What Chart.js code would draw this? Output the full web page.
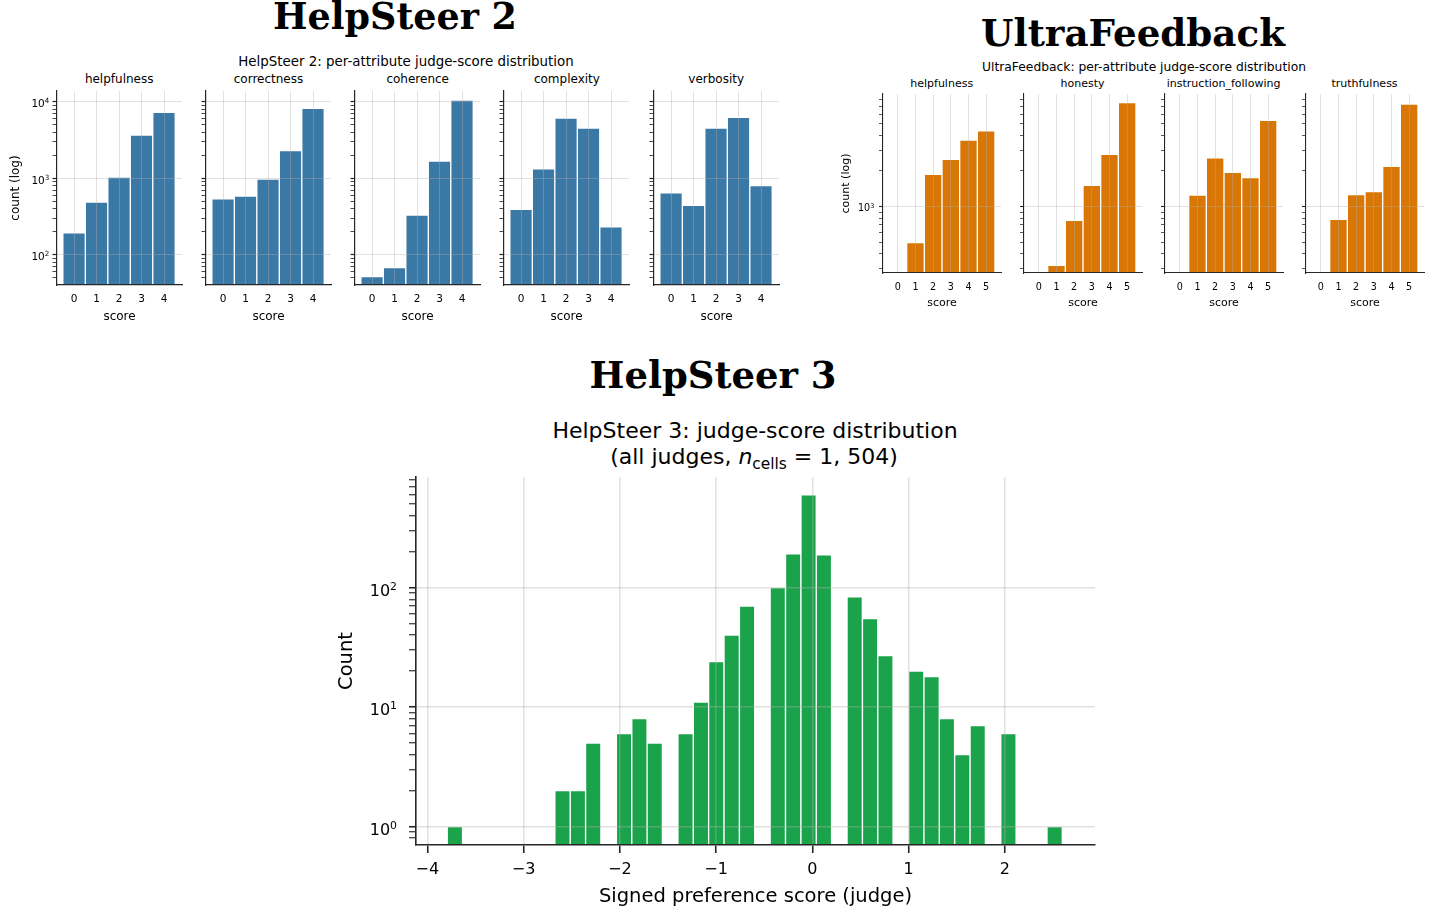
<!DOCTYPE html>
<html>
<head>
<meta charset="utf-8">
<script src="https://cdn.jsdelivr.net/npm/chart.js@4.4.1/dist/chart.umd.min.js"></script>
<style>
  html, body { margin: 0; padding: 0; background: #fff; }
  body { width: 1433px; height: 923px; position: relative; overflow: hidden;
         font-family: "DejaVu Sans", sans-serif; color: #000; }
  canvas { position: absolute; }
  .txt { position: absolute; white-space: nowrap; transform: translate(-50%, -50%); line-height: 1; }
  .head { font-family: "DejaVu Serif", serif; font-weight: bold; }
  sub { font-size: 0.7em; vertical-align: -0.3em; line-height: 0; }
</style>
</head>
<body>
<div class="txt head" id="h-hs2" style="left:395px; top:16.5px; font-size:35px">HelpSteer 2</div>
<div class="txt head" id="h-uf" style="left:1133px; top:34px; font-size:36px">UltraFeedback</div>
<div class="txt head" id="h-hs3" style="left:713px; top:375px; font-size:34px">HelpSteer 3</div>

<div class="txt" style="left:406px; top:61.7px; font-size:13.4px">HelpSteer 2: per-attribute judge-score distribution</div>
<div class="txt" style="left:1144px; top:66.7px; font-size:12.3px">UltraFeedback: per-attribute judge-score distribution</div>
<div class="txt" style="left:755px; top:431px; font-size:22px">HelpSteer 3: judge-score distribution</div>
<div class="txt" style="left:754px; top:457px; font-size:22px">(all judges, <i>n</i><sub>cells</sub> = 1, 504)</div>

<script>
// ---- data ----
const hs2Scores = [0, 1, 2, 3, 4];
const hs2Attributes = ['helpfulness', 'correctness', 'coherence', 'complexity', 'verbosity'];
const hs2Helpfulness = [194, 489, 1040, 3680, 7300];
const hs2Correctness = [539, 585, 980, 2300, 8260];
const hs2Coherence = [52, 68, 330, 1683, 10570];
const hs2Complexity = [392, 1336, 6140, 4550, 232];
const hs2Verbosity = [646, 442, 4550, 6270, 807];
const hs2YTicks = [100, 1000, 10000];

const ufScores = [0, 1, 2, 3, 4, 5];
const ufAttributes = ['helpfulness', 'honesty', 'instruction_following', 'truthfulness'];
const ufHelpfulness = [null, 497, 1874, 2508, 3655, 4377];
const ufHonesty = [null, 320, 767, 1514, 2767, 7553];
const ufInstructionFollowing = [null, 1254, 2577, 1950, 1758, 5356];
const ufTruthfulness = [null, 782, 1262, 1339, 2188, 7345];
const ufYTicks = [1000];

const hs3BinCenters = [
  -3.713, -3.553, -3.394, -3.234, -3.074, -2.914, -2.755, -2.595, -2.435, -2.276,
  -2.116, -1.956, -1.796, -1.637, -1.477, -1.317, -1.157, -0.998, -0.838, -0.678,
  -0.519, -0.359, -0.199, -0.039, 0.120, 0.280, 0.440, 0.600, 0.759, 0.919,
  1.079, 1.239, 1.398, 1.558, 1.718, 1.878, 2.037, 2.197, 2.357, 2.517
];
const hs3Counts = [
  1, null, null, null, null, null, null, 2, 2, 5,
  null, 6, 8, 5, null, 6, 11, 24, 40, 70,
  null, 100, 192, 600, 188, null, 84, 55, 27, null,
  20, 18, 8, 4, 7, null, 6, null, null, 1
];
const hs3XTicks = [-4, -3, -2, -1, 0, 1, 2];
const hs3YTicks = [1, 10, 100];

// ---- helpers ----
Chart.defaults.font.family = '"DejaVu Sans", sans-serif';
Chart.defaults.color = '#000';
const GRID = 'rgba(176,176,176,0.38)';
const AXIS = '#262626';

function fmt(v) { return v < 0 ? '\u2212' + Math.abs(v) : String(v); }
function logTickValues(min, max) {
  const out = [];
  for (let k = Math.floor(Math.log10(min)); k <= Math.ceil(Math.log10(max)); k++) {
    for (let m = 1; m <= 9; m++) {
      const v = Number((m * Math.pow(10, k)).toPrecision(3));
      if (v >= min && v <= max) out.push(v);
    }
  }
  return out;
}
function label(text, x, y, size) {
  const d = document.createElement('div');
  d.className = 'txt';
  d.style.left = x + 'px'; d.style.top = y + 'px'; d.style.fontSize = size + 'px';
  d.textContent = text;
  document.body.appendChild(d);
}

// y tick labels like matplotlib's 10^k: "10" plus a raised, smaller exponent
const powerLabels = {
  id: 'powerLabels',
  afterDraw(chart, args, opts) {
    if (!opts.show) return;
    const s = chart.scales.y, ctx = chart.ctx, f = opts.size;
    const xRight = s.right - opts.offset;
    ctx.save();
    ctx.fillStyle = '#000';
    ctx.textBaseline = 'alphabetic';
    ctx.textAlign = 'right';
    opts.values.forEach(v => {
      if (v < s.min || v > s.max) return;
      const y = s.getPixelForValue(v);
      const base = y + 0.5 * f;
      const e = String(Math.round(Math.log10(v)));
      ctx.font = (f * 0.68) + 'px "DejaVu Sans"';
      const ew = ctx.measureText(e).width;
      ctx.fillText(e, xRight, base - 0.375 * f);
      ctx.font = f + 'px "DejaVu Sans"';
      ctx.fillText('10', xRight - ew, base);
    });
    ctx.restore();
  }
};

function histChart(c) {
  const a = c.area, m = c.margin;
  const w = Math.round(a.r - a.l + m.l + m.r), h = Math.round(a.b - a.t + m.t + m.b);
  const cv = document.createElement('canvas');
  cv.width = w; cv.height = h;
  cv.style.left = (a.l - m.l) + 'px'; cv.style.top = (a.t - m.t) + 'px';
  cv.style.width = w + 'px'; cv.style.height = h + 'px';
  document.body.appendChild(cv);
  const yVals = logTickValues(c.yMin, c.yMax);
  const isMajor = v => c.yMajor.includes(v);
  return new Chart(cv, {
    type: 'bar',
    data: {
      datasets: [{
        data: c.xs.map((x, i) => ({ x: x, y: c.ys[i] })),
        backgroundColor: c.color,
        borderColor: 'rgba(255,255,255,0.85)',
        borderWidth: 1,
        barPercentage: 1,
        categoryPercentage: 1
      }]
    },
    plugins: [powerLabels],
    options: {
      responsive: false,
      animation: false,
      devicePixelRatio: 1,
      layout: { padding: { left: 0, top: m.t, right: m.r, bottom: 0 } },
      plugins: {
        legend: { display: false },
        tooltip: { enabled: false },
        powerLabels: { show: c.showYLabels, values: c.yMajor, size: c.tickSize, offset: c.yLabelOffset }
      },
      scales: {
        x: {
          type: 'linear', min: c.xMin, max: c.xMax, offset: false,
          afterBuildTicks: s => { s.ticks = c.xTicks.map(v => ({ value: v })); },
          afterFit: s => { s.height = m.b; },
          grid: { offset: false, color: GRID, lineWidth: c.gridWidth, z: 1,
                  drawTicks: c.xTickLen > 0, tickLength: c.xTickLen, tickColor: AXIS, tickWidth: c.axisWidth },
          border: { color: AXIS, width: c.axisWidth, z: 2 },
          ticks: { font: { size: c.tickSize }, color: '#000', padding: c.xTickPad,
                   maxRotation: 0, autoSkip: false, callback: v => fmt(v) },
          title: { display: true, text: c.xTitle, font: { size: c.titleSize }, color: '#000',
                   padding: { top: 0, bottom: c.xTitlePad } }
        },
        y: {
          type: 'logarithmic', min: c.yMin, max: c.yMax,
          afterBuildTicks: s => { s.ticks = yVals.map(v => ({ value: v })); },
          afterFit: s => { s.width = m.l; },
          grid: {
            z: 1, lineWidth: c.gridWidth,
            color: ctx => (ctx.tick && isMajor(ctx.tick.value)) ? GRID : 'rgba(0,0,0,0)',
            drawTicks: true, tickLength: c.yTickLen, tickColor: AXIS,
            tickWidth: ctx => (ctx.tick && isMajor(ctx.tick.value)) ? c.axisWidth : c.axisWidth * 0.7
          },
          border: { color: AXIS, width: c.axisWidth, z: 2 },
          ticks: { display: false },
          title: { display: !!c.yTitle, text: c.yTitle || '', font: { size: c.titleSize }, color: '#000',
                   padding: { top: c.yTitlePad, bottom: 0 } }
        }
      }
    }
  });
}

// ---- HelpSteer 2 panels ----
const hs2Series = [hs2Helpfulness, hs2Correctness, hs2Coherence, hs2Complexity, hs2Verbosity];
const hs2Lefts = [56.7, 206, 355.2, 504.4, 653.7];
hs2Series.forEach((ys, i) => {
  const l = hs2Lefts[i];
  label(hs2Attributes[i], l + 62.5, 79, 12);
  histChart({
    area: { l: l, t: 91, r: l + 125, b: 285 },
    margin: { l: 52, t: 16, r: 10, b: 40 },
    xs: hs2Scores, ys: ys, xMin: -0.76, xMax: 4.8, xTicks: hs2Scores,
    yMin: 40.2, yMax: 13900, yMajor: hs2YTicks, showYLabels: i === 0,
    color: '#3a78a6', tickSize: 10.5, titleSize: 12,
    xTitle: 'score', yTitle: i === 0 ? 'count (log)' : null,
    xTickLen: 0, xTickPad: 8, xTitlePad: 1.3,
    yTickLen: 4.5, yLabelOffset: 7.7, yTitlePad: 4,
    axisWidth: 1.2, gridWidth: 1
  });
});

// ---- UltraFeedback panels ----
const ufSeries = [ufHelpfulness, ufHonesty, ufInstructionFollowing, ufTruthfulness];
const ufLefts = [882.7, 1023.6, 1164.6, 1305.5];
ufSeries.forEach((ys, i) => {
  const l = ufLefts[i];
  label(ufAttributes[i], l + 59, 83.3, 11);
  histChart({
    area: { l: l, t: 94.3, r: l + 118, b: 273.3 },
    margin: { l: 45, t: 16, r: 8, b: 38 },
    xs: ufScores, ys: ys, xMin: -0.84, xMax: 5.84, xTicks: ufScores,
    yMin: 275, yMax: 8940, yMajor: ufYTicks, showYLabels: i === 0,
    color: '#d97706', tickSize: 9.6, titleSize: 11,
    xTitle: 'score', yTitle: i === 0 ? 'count (log)' : null,
    xTickLen: 0, xTickPad: 8.6, xTitlePad: 1.5,
    yTickLen: 4, yLabelOffset: 8.7, yTitlePad: 1.7,
    axisWidth: 1.1, gridWidth: 1
  });
});

// ---- HelpSteer 3 ----
histChart({
  area: { l: 415.7, t: 477, r: 1095, b: 845 },
  margin: { l: 82, t: 30, r: 12, b: 65 },
  xs: hs3BinCenters, ys: hs3Counts, xMin: -4.117, xMax: 2.936, xTicks: hs3XTicks,
  yMin: 0.736, yMax: 845, yMajor: hs3YTicks, showYLabels: true,
  color: '#1aa34a', tickSize: 16, titleSize: 19.5,
  xTitle: 'Signed preference score (judge)', yTitle: 'Count',
  xTickLen: 8, xTickPad: 7.2, xTitlePad: 1.5,
  yTickLen: 7, yLabelOffset: 19, yTitlePad: 1.1,
  axisWidth: 1.6, gridWidth: 1.5
});

// fit the big headings to their measured widths
[['h-hs2', 244], ['h-uf', 304], ['h-hs3', 247]].forEach(([id, target]) => {
  const el = document.getElementById(id);
  const wNow = el.getBoundingClientRect().width;
  el.style.fontSize = (parseFloat(el.style.fontSize) * target / wNow) + 'px';
});
</script>
</body>
</html>
